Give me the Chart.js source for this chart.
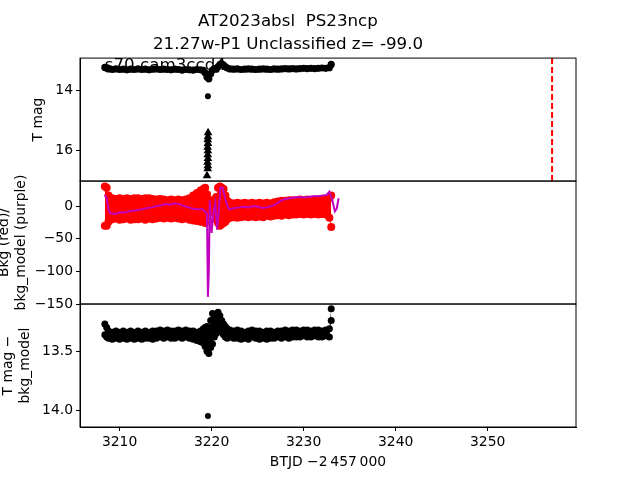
<!DOCTYPE html>
<html>
<head>
<meta charset="utf-8">
<script src="https://cdn.jsdelivr.net/npm/chart.js@4.4.1/dist/chart.umd.min.js"></script>
<style>
  html, body { margin: 0; padding: 0; background: #fff; }
  #wrap { width: 640px; height: 480px; }
</style>
</head>
<body>
<div id="wrap"><canvas id="lc" width="640" height="480"></canvas></div>
<script>
// --- data ---
const btjd = [
  3208.4, 3208.6, 3208.8, 3209.2, 3209.6, 3210.0, 3210.4, 3210.8, 3211.2, 3211.6,
  3212.0, 3212.4, 3212.8, 3213.2, 3213.6, 3214.0, 3214.4, 3214.8, 3215.2, 3215.6,
  3216.0, 3216.4, 3216.8, 3217.2, 3217.6, 3218.0, 3218.4, 3218.8, 3219.1, 3219.3,
  3219.5, 3219.7, 3219.9, 3220.1, 3220.3, 3220.5, 3220.7, 3220.9, 3221.1, 3221.3,
  3221.5, 3221.7, 3222.0, 3222.4, 3222.8, 3223.2, 3223.6, 3224.0, 3224.4, 3224.8,
  3225.2, 3225.6, 3226.0, 3226.4, 3226.8, 3227.2, 3227.6, 3228.0, 3228.4, 3228.8,
  3229.2, 3229.6, 3230.0, 3230.4, 3230.8, 3231.2, 3231.6, 3232.0, 3232.4, 3232.8,
  3233.0
];
// T mag (top panel)
const tMag = [
  13.24, 13.27, 13.29, 13.31, 13.29, 13.31, 13.30, 13.32, 13.30, 13.31,
  13.29, 13.31, 13.30, 13.32, 13.30, 13.29, 13.31, 13.30, 13.31, 13.32,
  13.30, 13.31, 13.33, 13.31, 13.32, 13.33, 13.31, 13.32, 13.34, 13.42,
  13.56, 13.62, 13.45, 13.33, 13.28, 13.30, 13.22, 13.15, 13.12, 13.16,
  13.22, 13.26, 13.29, 13.30, 13.29, 13.31, 13.30, 13.29, 13.30, 13.31,
  13.30, 13.29, 13.30, 13.31, 13.29, 13.30, 13.29, 13.28, 13.29, 13.28,
  13.29, 13.28, 13.27, 13.28, 13.27, 13.28, 13.27, 13.26, 13.27, 13.25,
  13.14
];
const faintT = [3219.6];
const faintMag = [14.2];
// upper limits (triangles)
const limT = [3219.62, 3219.6, 3219.58, 3219.6, 3219.57, 3219.6, 3219.58, 3219.6, 3219.56, 3219.6, 3219.58, 3219.5];
const limMag = [15.42, 15.55, 15.65, 15.78, 15.9, 16.02, 16.15, 16.28, 16.4, 16.52, 16.62, 16.85];

// background flux (middle panel): upper and lower edge of the red cloud
const bkgHi = [
  30, 28, 16, 12, 11, 12, 11, 12, 11, 12,
  12, 11, 12, 12, 11, 10, 11, 10, 9, 10,
  9, 10, 9, 10, 12, 16, 20, 24, 26, 28,
  18, 10, 6, 8, 6, 14, 28, 30, 28, 26,
  16, 8, 5, 4, 5, 4, 5, 4, 5, 4,
  5, 4, 5, 4, 6, 7, 8, 8, 9, 9,
  9, 10, 9, 10, 9, 10, 10, 11, 10, 12,
  16
];
const bkgLo = [
  -30, -30, -24, -20, -19, -21, -20, -19, -21, -20,
  -20, -19, -21, -19, -20, -19, -18, -19, -18, -19,
  -18, -19, -20, -19, -21, -22, -23, -24, -24, -26,
  -16, -8, -6, -10, -8, -20, -26, -30, -28, -26,
  -24, -20, -18, -17, -18, -17, -16, -17, -16, -17,
  -16, -17, -15, -16, -15, -14, -15, -13, -14, -13,
  -13, -12, -13, -12, -13, -12, -13, -12, -13, -18,
  -32
];
const modelT = [
  3208.4, 3208.6, 3208.8, 3209.0, 3209.5, 3210.0, 3210.5, 3211.0, 3211.5, 3212.0,
  3212.5, 3213.0, 3213.5, 3214.0, 3214.5, 3215.0, 3215.5, 3216.0, 3216.5, 3217.0,
  3217.5, 3218.0, 3218.5, 3219.0, 3219.3, 3219.5, 3219.6, 3219.7, 3219.8, 3220.0,
  3220.2, 3220.4, 3220.6, 3220.8, 3220.95, 3221.2, 3221.5, 3221.8, 3222.0, 3222.5,
  3223.0, 3223.5, 3224.0, 3224.5, 3225.0, 3225.5, 3226.0, 3226.5, 3227.0, 3227.5,
  3228.0, 3228.5, 3229.0, 3229.5, 3230.0, 3230.5, 3231.0, 3231.5, 3232.0, 3232.5,
  3232.8, 3233.1, 3233.4, 3233.6, 3233.8
];
const bkgModel = [
  17, 12, -5, -11, -12, -10, -10, -8, -7, -6,
  -5, -3, -2, 0, 1, 3, 2, 4, 3, 0,
  -2, -4, -5, -5, -8, -12, -139, -100, 9, -41,
  -10, 5, -36, -5, 28, 28, 10, -3, -5, -3,
  -2, -1, -2, 0, -1, -3, -2, 0, 3, 8,
  11, 12, 13, 14, 13, 14, 15, 15, 16, 17,
  22, 10, -8, -4, 12
];

// T mag - bkg_model (bottom panel): upper and lower edge of the band
const diffUp = [
  13.27, 13.30, 13.33, 13.34, 13.33, 13.34, 13.33, 13.34, 13.33, 13.34,
  13.33, 13.34, 13.33, 13.34, 13.33, 13.33, 13.32, 13.33, 13.32, 13.33,
  13.33, 13.32, 13.33, 13.32, 13.33, 13.33, 13.34, 13.33, 13.31, 13.30,
  13.29, 13.34, 13.24, 13.18, 13.21, 13.19, 13.17, 13.20, 13.24, 13.27,
  13.29, 13.31, 13.32, 13.33, 13.32, 13.33, 13.34, 13.33, 13.32, 13.33,
  13.33, 13.34, 13.33, 13.33, 13.34, 13.33, 13.33, 13.32, 13.33, 13.32,
  13.32, 13.33, 13.32, 13.32, 13.33, 13.32, 13.32, 13.33, 13.32, 13.31,
  13.14
];
const diffDown = [
  13.36, 13.38, 13.39, 13.40, 13.39, 13.40, 13.39, 13.40, 13.39, 13.40,
  13.39, 13.40, 13.39, 13.39, 13.40, 13.39, 13.38, 13.39, 13.38, 13.39,
  13.39, 13.38, 13.39, 13.38, 13.39, 13.40, 13.41, 13.42, 13.43, 13.46,
  13.50, 13.52, 13.47, 13.44, 13.38, 13.35, 13.33, 13.31, 13.34, 13.36,
  13.38, 13.39, 13.38, 13.39, 13.39, 13.40, 13.39, 13.40, 13.38, 13.39,
  13.40, 13.39, 13.40, 13.39, 13.39, 13.38, 13.39, 13.38, 13.39, 13.38,
  13.38, 13.38, 13.37, 13.38, 13.38, 13.37, 13.38, 13.38, 13.37, 13.38,
  13.24
];
const outlierT = 3219.6;
const outlierMag = 14.05;
const outlierErr = 0.015;

const refEpoch = 3257.0;
const xTicks = [3210, 3220, 3230, 3240, 3250];
const topTicks = [14, 16];
const midTicks = [0, -50, -100, -150];
const botTicks = [13.5, 14.0];

const titleLines = ['AT2023absl  PS23ncp', '21.27w-P1 Unclassified z= -99.0'];
const sectorLabel = 's70 cam3ccd4';

// --- helpers ---
const FONT = 'DejaVu Sans';
const tickFont = { family: FONT, size: 13.9 };
const minus = v => String(v).replace('-', '\u2212');
const toPoints = (xs, ys) => xs.map((x, i) => ({ x, y: ys[i] }));
const setTicks = list => s => { s.ticks = list.map(v => ({ value: v })); };

function yAxis(opts) {
  return {
    type: 'linear',
    position: 'left',
    stack: 'rows',
    stackWeight: 1,
    weight: opts.weight,
    reverse: opts.reverse,
    min: opts.min,
    max: opts.max,
    afterBuildTicks: setTicks(opts.ticks),
    afterFit: s => { s.width = 80; },
    grid: { drawOnChartArea: false, tickLength: 4, tickColor: '#000', tickWidth: 1 },
    border: { color: '#000', width: 1 },
    ticks: { font: tickFont, color: '#000', padding: 3, callback: opts.fmt },
    title: { display: true, text: opts.title, font: { family: FONT, size: 13.9 }, color: '#000', padding: { top: opts.pad, bottom: 0 } }
  };
}

const panelFrames = {
  id: 'panelFrames',
  afterDatasetsDraw(chart) {
    const { ctx, chartArea, scales } = chart;
    ctx.save();
    // dashed epoch marker, top panel only
    const xp = scales.x.getPixelForValue(refEpoch);
    ctx.strokeStyle = 'red';
    ctx.lineWidth = 2;
    ctx.setLineDash([6, 3]);
    ctx.beginPath();
    ctx.moveTo(xp, scales.yTop.top);
    ctx.lineTo(xp, scales.yTop.bottom);
    ctx.stroke();
    ctx.setLineDash([]);

    ctx.strokeStyle = '#000';
    ctx.lineWidth = 1;
    ['yTop', 'yMid', 'yBot'].forEach(id => {
      const s = scales[id];
      ctx.strokeRect(chartArea.left, s.top, chartArea.right - chartArea.left, s.bottom - s.top);
    });

    const top = scales.yTop;
    ctx.fillStyle = '#000';
    ctx.font = '16.7px "DejaVu Sans"';
    ctx.textAlign = 'left';
    ctx.textBaseline = 'alphabetic';
    ctx.fillText(sectorLabel, chartArea.left + 0.05 * (chartArea.right - chartArea.left),
      top.bottom - 0.9 * (top.bottom - top.top));
    ctx.restore();
  }
};

const dot = (color, r) => ({
  showLine: false, pointRadius: r, pointHoverRadius: r,
  backgroundColor: color, borderColor: color, borderWidth: 0, pointBorderWidth: 0
});

new Chart(document.getElementById('lc'), {
  type: 'scatter',
  data: {
    datasets: [
      { data: toPoints(modelT, bkgModel), yAxisID: 'yMid', showLine: true, borderColor: '#bf00bf',
        borderWidth: 2, pointRadius: 0, tension: 0 },
      { data: toPoints(btjd, bkgHi), yAxisID: 'yMid', ...dot('red', 4), showLine: true, borderWidth: 0,
        fill: '+1', tension: 0 },
      { data: toPoints(btjd, bkgLo), yAxisID: 'yMid', ...dot('red', 4), showLine: true, borderWidth: 0, tension: 0 },
      { data: toPoints(btjd, tMag), yAxisID: 'yTop', ...dot('#000', 3.6) },
      { data: toPoints(faintT, faintMag), yAxisID: 'yTop', ...dot('#000', 3) },
      { data: toPoints(limT, limMag), yAxisID: 'yTop', ...dot('#000', 5), pointStyle: 'triangle' },
      { data: toPoints(btjd, diffUp), yAxisID: 'yBot', ...dot('#000', 3.5), showLine: true, borderWidth: 0,
        fill: '+1', tension: 0 },
      { data: toPoints(btjd, diffDown), yAxisID: 'yBot', ...dot('#000', 3.5), showLine: true, borderWidth: 0, tension: 0 },
      { data: toPoints([outlierT], [outlierMag]), yAxisID: 'yBot', ...dot('#000', 3) },
      { data: toPoints([outlierT, outlierT], [outlierMag - outlierErr, outlierMag + outlierErr]), yAxisID: 'yBot',
        showLine: true, borderColor: '#000', borderWidth: 1.5, pointRadius: 0 }
    ]
  },
  options: {
    responsive: false,
    animation: false,
    layout: { padding: { left: 0, right: 64, top: 0, bottom: 0 } },
    plugins: {
      legend: { display: false },
      tooltip: { enabled: false },
      title: {
        display: true,
        text: titleLines,
        color: '#000',
        font: { family: FONT, size: 16.7, weight: 'normal', lineHeight: 1.38 },
        padding: { top: 10, bottom: 2 }
      }
    },
    scales: {
      x: {
        type: 'linear',
        position: 'bottom',
        min: 3205.7,
        max: 3259.6,
        afterBuildTicks: setTicks(xTicks),
        afterFit: s => { s.height = 53; },
        grid: { drawOnChartArea: false, tickLength: 4, tickColor: '#000' },
        border: { color: '#000' },
        ticks: { font: tickFont, color: '#000', padding: 3, maxRotation: 0, callback: v => String(v) },
        title: { display: true, text: 'BTJD \u22122\u2009457\u2009000', font: { family: FONT, size: 13.9 },
          color: '#000', padding: { top: 0, bottom: 9 } }
      },
      yBot: yAxis({ weight: 1, reverse: true, min: 13.10, max: 14.144, ticks: botTicks,
        fmt: v => v.toFixed(1), title: ['T mag \u2212', 'bkg_model'], pad: 0 }),
      yMid: yAxis({ weight: 2, reverse: false, min: -150, max: 38.3, ticks: midTicks,
        fmt: v => minus(v), title: ['Bkg (red)/', 'bkg_model (purple)'], pad: -4 }),
      yTop: yAxis({ weight: 3, reverse: true, min: 12.93, max: 17.03, ticks: topTicks,
        fmt: v => String(v), title: 'T mag', pad: 30 })
    }
  },
  plugins: [panelFrames]
});
</script>
</body>
</html>
